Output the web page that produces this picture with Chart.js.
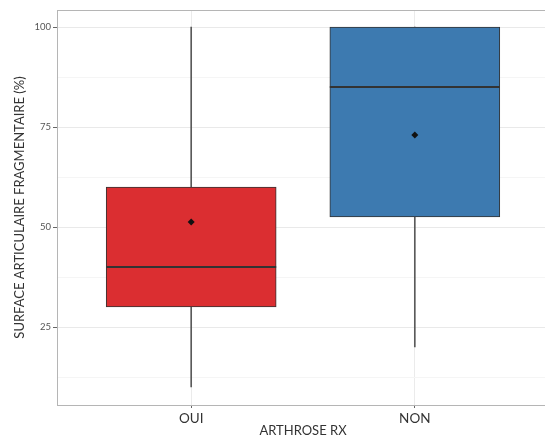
<!DOCTYPE html>
<html>
<head>
<meta charset="utf-8">
<script src="https://cdn.jsdelivr.net/npm/chart.js@4/dist/chart.umd.min.js"></script>
<style>
  html, body { margin: 0; padding: 0; background: #fff; overflow: hidden; }
  #wrap { width: 553px; height: 439px; }
</style>
</head>
<body>
<div id="wrap"><canvas id="boxChart" width="553" height="439"></canvas></div>
<script>
// data
const categories = ["OUI", "NON"];
const whiskerLow = [10, 20];
const q1 = [30, 52.5];
const medians = [40, 85];
const q3 = [60, 100];
const whiskerHigh = [100, 100];
const means = [51.25, 73];
const boxColors = ["#DB2E31", "#3D7AB0"];
const yTicks = [12.5, 25, 37.5, 50, 62.5, 75, 87.5, 100];

const positions = categories.map((c, i) => i + 1);

const medianPlugin = {
  id: "medianLines",
  afterDatasetDraw(chart, args) {
    if (args.index !== 1) return;
    const ctx = chart.ctx;
    const yScale = chart.scales.y;
    ctx.save();
    ctx.strokeStyle = "#333";
    ctx.lineWidth = 2;
    args.meta.data.forEach((bar, i) => {
      const y = yScale.getPixelForValue(medians[i]);
      const half = bar.width / 2;
      ctx.beginPath();
      ctx.moveTo(bar.x - half, y);
      ctx.lineTo(bar.x + half, y);
      ctx.stroke();
    });
    ctx.restore();
  },
};

const panelBorder = {
  id: "panelBorder",
  afterDraw(chart) {
    const { left, right, top, bottom } = chart.chartArea;
    const ctx = chart.ctx;
    ctx.save();
    ctx.strokeStyle = "#b5b5b5";
    ctx.lineWidth = 1;
    ctx.strokeRect(left + 0.5, top + 0.5, right - left - 1, bottom - top);
    ctx.restore();
  },
};

Chart.defaults.font.family = "Lato, 'Liberation Sans', sans-serif";

new Chart(document.getElementById("boxChart").getContext("2d"), {
  type: "bar",
  data: {
    datasets: [
      {
        type: "bar",
        label: "whiskers",
        data: positions.map((x, i) => ({ x, y: [whiskerLow[i], whiskerHigh[i]] })),
        backgroundColor: "#5a5a5a",
        borderWidth: 0,
        barThickness: 1,
        grouped: false,
        order: 3,
      },
      {
        type: "bar",
        label: "box",
        data: positions.map((x, i) => ({ x, y: [q1[i], q3[i]] })),
        backgroundColor: boxColors,
        borderColor: "#333",
        borderWidth: 1,
        borderSkipped: false,
        barThickness: 170,
        grouped: false,
        order: 2,
      },
      {
        type: "scatter",
        label: "mean",
        data: positions.map((x, i) => ({ x, y: means[i] })),
        pointStyle: "rectRot",
        pointRadius: 3.5,
        backgroundColor: "#111",
        borderColor: "#111",
        borderWidth: 0,
        order: 1,
      },
    ],
  },
  options: {
    responsive: false,
    animation: false,
    layout: { padding: { top: 10, right: 0, bottom: 0, left: 0 } },
    plugins: {
      legend: { display: false },
      tooltip: { enabled: false },
    },
    scales: {
      x: {
        type: "linear",
        min: 0.4,
        max: 2.6,
        offset: false,
        afterBuildTicks: (scale) => {
          scale.ticks = positions.map((v) => ({ value: v }));
        },
        afterFit: (scale) => {
          scale.height = 34;
        },
        ticks: {
          color: "#333",
          font: { size: 13.5 },
          padding: 3,
          maxRotation: 0,
          callback: (v) => categories[v - 1],
        },
        grid: {
          offset: false,
          color: "#ebebeb",
          tickColor: "#666",
          tickLength: 3,
        },
        border: { color: "#aaa" },
        title: {
          display: true,
          text: "ARTHROSE RX",
          color: "#333",
          font: { size: 13 },
          padding: { top: 0, bottom: 0 },
        },
      },
      y: {
        min: 5.5,
        max: 104.25,
        afterBuildTicks: (scale) => {
          scale.ticks = yTicks.map((v) => ({ value: v }));
        },
        afterFit: (scale) => {
          scale.width = 57;
        },
        ticks: {
          color: "#555",
          font: { size: 9.5 },
          padding: 2,
          callback: (v) => (v % 25 === 0 ? String(v) : ""),
        },
        grid: {
          offset: false,
          color: (ctx) => (ctx.tick && ctx.tick.value % 25 === 0 ? "#e9e9e9" : "#f5f5f5"),
          tickColor: (ctx) => (ctx.tick && ctx.tick.value % 25 === 0 ? "#666" : "rgba(0,0,0,0)"),
          tickLength: 4,
        },
        border: { color: "#c8c8c8" },
        title: {
          display: true,
          text: "SURFACE ARTICULAIRE FRAGMENTAIRE (%)",
          color: "#333",
          font: { size: 13 },
          padding: { top: 12, bottom: 0 },
        },
      },
    },
  },
  plugins: [medianPlugin, panelBorder],
});
</script>
</body>
</html>
